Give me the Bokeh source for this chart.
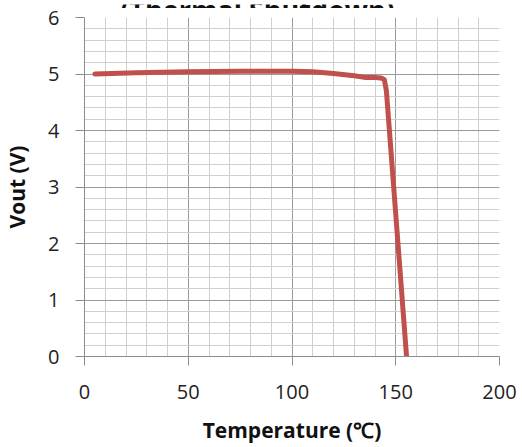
from bokeh.plotting import figure
from bokeh.layouts import column
from bokeh.models import Range1d, SingleIntervalTicker
from bokeh.core.properties import value
from bokeh.embed import file_html
from bokeh.resources import INLINE

temperature = [5, 25, 50, 75, 100, 110, 120, 130, 135, 140, 143, 144.5, 145.5, 155.2]
vout = [5.0, 5.02, 5.04, 5.05, 5.05, 5.04, 5.01, 4.97, 4.94, 4.94, 4.93, 4.9, 4.7, 0.0]
x_ticks_interval = 50
y_ticks_interval = 1
title_text = "(Thermal Shutdown)"
x_label = "Temperature (\u2103)"
y_label = "Vout (V)"

FONT = "Open Sans"
W = 520
FRAME_L, FRAME_R = 84, 499

# title strip (the original title is cut off at the top of the image);
# its frame is aligned with the plot frame by the column layout, so x is in page pixels
t = figure(width=W, height=8, output_backend="svg", toolbar_location=None,
           x_axis_type=None, y_axis_type=None,
           x_range=Range1d(FRAME_L, FRAME_R), y_range=Range1d(0, 8),
           min_border_left=0, min_border_right=0, min_border_top=0, min_border_bottom=0)
t.grid.visible = False
t.outline_line_color = None
t.text(x=[257], y=[3.3], text=[title_text], text_align="center", text_baseline="alphabetic",
       text_font=value(FONT), text_font_size="27px", text_font_style="bold", text_color="#111111")

p = figure(width=W, height=439, output_backend="svg", toolbar_location=None,
           x_range=Range1d(0, 200), y_range=Range1d(0, 6),
           min_border_left=FRAME_L, min_border_right=W - FRAME_R, min_border_top=9, min_border_bottom=91)
p.outline_line_color = None
p.background_fill_color = "white"
p.border_fill_color = "white"

xt = SingleIntervalTicker(interval=x_ticks_interval, num_minor_ticks=5)
yt = SingleIntervalTicker(interval=y_ticks_interval, num_minor_ticks=5)
p.xaxis.ticker = xt
p.yaxis.ticker = yt
p.xgrid.ticker = xt
p.ygrid.ticker = yt

for g in (p.xgrid, p.ygrid):
    g.grid_line_color = "#9a9a9a"
    g.grid_line_width = 1
    g.minor_grid_line_color = "#cfcfcf"
    g.minor_grid_line_width = 1

for ax in (p.xaxis, p.yaxis):
    ax.axis_line_color = "#8c8c8c"
    ax.major_tick_line_color = "#8c8c8c"
    ax.major_tick_in = 0
    ax.major_tick_out = 9
    ax.minor_tick_out = 0
    ax.minor_tick_in = 0
    ax.major_label_text_font = FONT
    ax.major_label_text_font_size = "20px"
    ax.major_label_text_color = "#222222"
    ax.axis_label_text_font = FONT
    ax.axis_label_text_font_size = "21px"
    ax.axis_label_text_font_style = "bold"
    ax.axis_label_text_color = "#111111"

p.xaxis.axis_label = x_label
p.yaxis.axis_label = y_label
p.xaxis.major_label_standoff = 19
p.yaxis.major_label_standoff = 16
p.xaxis.axis_label_standoff = 14
p.yaxis.axis_label_standoff = 14

p.line(temperature, vout, line_color="#C0504D", line_width=5, line_cap="round", line_join="round")

layout = column(t, p, spacing=0)
open("out.html", "w").write(file_html(layout, INLINE))
